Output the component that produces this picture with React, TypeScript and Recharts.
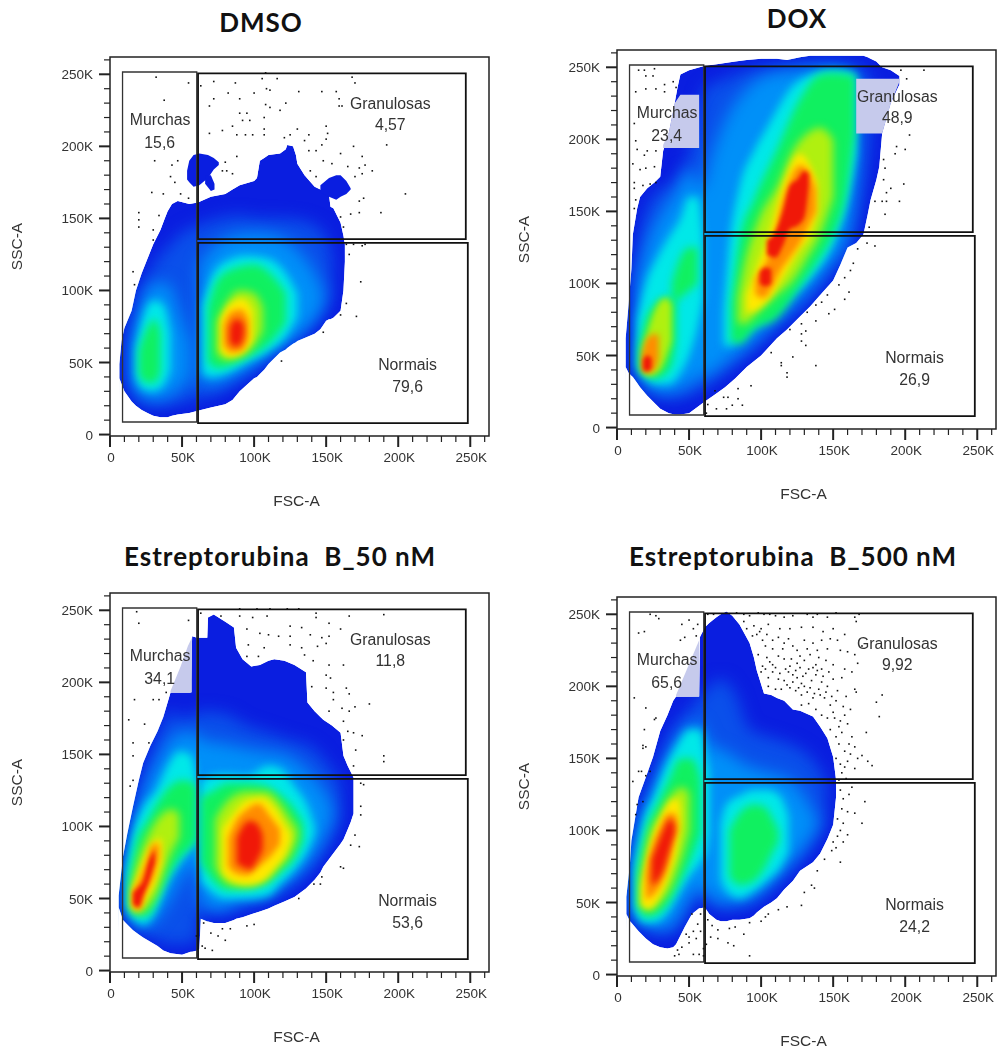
import React from "react";
import { ComposedChart, Area, Scatter, XAxis, YAxis, ReferenceArea, ReferenceDot } from "recharts";

type Row = number[];
const axisTicks = [0, 10, 20, 30, 40, 50, 60, 70, 80, 90, 100, 110, 120, 130, 140, 150, 160, 170, 180, 190, 200, 210, 220, 230, 240, 250, 260];
const majorTicks = [0, 50, 100, 150, 200, 250];

const deep = "#0a1ee0", blue = "#0a50ea", sky = "#0090f8", cyan = "#00e8e8", green = "#10f060", lime = "#b0f010", yellow = "#ffe800", orange = "#ff8c00", red = "#f01808", patch = "#c6caec";

// DMSO
const dmsoOuter: Row[] = [[6.5,39,49],[8,35,65],[10,30,74],[15,23,86],[18,20,100],[22,17,112],[26,15,122],[30,13,132],[35,12,142],[38,12,150],[40,12,155],[43,13,160],[47,14,162],[55,15,160],[61,16.5,161],[70,18.7,165],[80,21,167],[85,24,170],[90,30,173],[100,39,176],[102,40,178],[104,42,190],[107,45,192],[110,49,194],[118,57,195],[122,59,198],[123,60,201],[127,63,200],[129,64,194],[130,65,188],[135,67,180],[142,70,172],[146,73,170],[150,79,168],[152,80,166],[153,80,158],[155,81,157],[160,86,147],[162,100,138],[163,120,132]];
const dmsoIsland: Row[] = [[53.5,177,183],[55,175,190],[58,172,194],[62,173,195],[68,178,194],[72,184,192],[75.5,187,189]];
const dmsoTail: Row[] = [[66,174,180],[70,169,180],[72.5,170,174]];
const dmsoLobe: Row[] = [[146,168,173],[152,165,178],[157,163,180],[160,165,180],[164,167,176],[167,170,171]];
const dmsoBlue: Row[] = [[14,34,70],[20,24,95],[30,20,118],[40,20,130],[50,22,140],[61,25,145],[75,28,150],[90,38,152],[105,50,150],[120,62,150],[135,72,148],[148,85,140],[154,95,125]];
const dmsoSkyL: Row[] = [[14,38,60],[20,28,85],[30,24,105],[40,26,105],[48,32,85],[56,40,62]];
const dmsoSkyR: Row[] = [[62,35,118],[70,35,128],[85,40,138],[100,48,140],[115,58,138],[130,68,128],[142,80,112],[148,90,100]];
const dmsoCyanL: Row[] = [[18,40,60],[22,32,78],[30,30,93],[37,34,90],[42,45,70]];
const dmsoCyanR: Row[] = [[64,42,90],[70,40,108],[80,42,120],[95,50,124],[110,58,122],[122,68,112],[130,82,98]];
const dmsoGreenL: Row[] = [[20,42,58],[25,36,72],[31,36,80],[35,44,70]];
const dmsoGreenR: Row[] = [[68,50,88],[75,46,108],[88,50,116],[100,56,118],[113,66,110],[122,78,98]];
const dmsoLime: Row[] = [[74,57,78],[80,52,90],[90,54,100],[100,62,98],[106,72,88]];
const dmsoYellow: Row[] = [[77,58,80],[83,54,90],[92,57,94],[99,66,86]];
const dmsoOrange: Row[] = [[79,62,76],[84,57,85],[91,58,87],[96,67,80]];
const dmsoRed: Row[] = [[83,64,74],[87,61,80],[91,63,79],[93,70,75]];
const dmsoDots: Row[] = [[32,248],[54.5,244],[37.6,232],[63,242],[72,245],[87,244],[105.6,247],[108,251],[116,247],[168,248],[170,244],[131,238],[147,238],[157,238],[159,233],[159,228],[161,228],[72,233],[69,228],[90,233],[100,237],[108.6,240],[111,239],[82,237],[108,229],[111,227],[122,230],[118,225],[90,223],[95,223],[107,220],[92,218],[107,212],[78,211],[85,214],[97,218],[130,212],[150,214],[69,209],[88,208],[94,208],[99,208],[107,208],[125,208],[121,206],[138,208],[135,204],[151,209],[150,205],[192,201],[169,200],[147,201],[143,197],[138,197],[160,195],[175,193],[177,187],[173,185],[182,183],[175,181],[170,179],[165,186],[154,188],[148,190],[139,183],[143,179],[80,189],[88,193],[81,183],[78,183],[85,181],[43,187],[47,190],[31,190],[42,179],[45,175],[29,168],[37,167],[49,167],[54.5,164],[205,167],[188,154],[167,153],[173,154],[173,162],[176,164],[160,151],[162,144],[20,154],[34,152],[20,149],[20,144],[30,142],[30,135],[16,113],[17,104],[164,132],[169,132],[175,131],[177,132],[166,125],[174,106],[164,91],[171,82],[160,83],[148,71],[119,51]];

// DOX
const doxOuter: Row[] = [[6,42,62],[8,38,85],[10,36,110],[11,35,134],[14,31,152],[16,28,160],[21,22,166],[26,17,170],[30,13,174],[32,12,192],[36,10,205],[40,9,225],[42,9,236],[44,9,245],[50,10,248],[61,18,251],[68,23,252],[75,28,253],[82,34,254],[90,42,255],[100,50,256],[111,62,256],[118,68,255],[127,77,257],[134,84,258],[141,92,258],[150,102,258],[155,113,258],[160,125,258],[166,128,258],[171,134,258],[174,148,257],[176,158,256],[180,172,254],[182,181,252],[184,204,250],[190,225,248],[196,238,244]];
const doxBlue: Row[] = [[12,40,110],[20,28,150],[30,22,165],[40,20,170],[50,22,190],[61,28,235],[75,38,242],[90,50,248],[110,68,250],[130,85,252],[150,110,252],[165,135,250],[172,170,248],[176,200,245]];
const doxSky: Row[] = [[14,38,100],[22,28,130],[32,24,150],[42,26,165],[50,30,180],[58,35,165],[66,38,190],[76,46,215],[90,56,235],[105,70,245],[125,88,248],[145,110,250],[160,135,248],[166,180,244]];
const doxCyanL: Row[] = [[14,42,75],[20,34,100],[28,30,118],[36,30,132],[44,38,145],[50,50,160],[56,70,160],[60,90,130]];
const doxCyanR: Row[] = [[74,58,80],[77,56,118],[85,62,167],[95,70,192],[104,76,208],[122,92,237],[135,105,245],[150,128,248],[160,158,247],[166,190,245]];
const doxGreenL: Row[] = [[15,40,55],[20,36,75],[26,34,85],[32,36,90],[38,44,90],[41,60,85]];
const doxGreenL2: Row[] = [[38,85,100],[44,90,118],[50,95,125],[56,100,125]];
const doxGreenR: Row[] = [[79,60,85],[85,58,130],[95,68,158],[111,76,193],[127,98,228],[141,118,245],[150,134,246],[160,167,245],[165,204,244]];
const doxLimeR: Row[] = [[84,72,90],[88,72,111],[99,81,146],[111,92,167],[122,102,192],[132,118,204],[141,134,208],[150,160,200]];
const doxYellowR: Row[] = [[90,80,92],[97,82,111],[104,88,130],[115,104,167],[127,124,190],[134,134,182],[139,150,170]];
const doxOrangeR: Row[] = [[96,92,104],[102,90,112],[108,98,128],[113,108,150],[120,118,172],[127,128,182],[133,140,178],[138,150,165]];
const doxRedA: Row[] = [[99,100,108],[103,98,111],[107,100,110]];
const doxRedB: Row[] = [[104,120,130],[110,118,136],[115,126,150],[120,138,168],[125,140,172],[130,146,178],[133,168,176]];
const doxLimeL: Row[] = [[18,38,55],[22,36,70],[28,38,85],[34,48,90],[38,60,85]];
const doxOrangeL: Row[] = [[17,40,50],[21,38,62],[26,40,65],[29,48,64]];
const doxRedL: Row[] = [[18,40,47],[21,39,50],[24,41,48]];
const doxPatchA: Row[] = [[32,194,196],[36,194,205],[40,194,225],[44,194,231],[57,194,231]];
const doxPatchB: Row[] = [[166,204,242],[184,204,242],[190,225,242],[196,240,242]];
const doxDots: Row[] = [[15,248],[19,248],[26,249],[20,244],[25,244],[13,233],[20,235],[27,235],[33,238],[39,240],[33,233],[41,236],[12,211],[13,199],[14,193],[21,192],[27,192],[19,189],[11,183],[16,179],[20,180],[26,181],[12,170],[12,166],[18,168],[23,169],[27,170],[13,158],[12,152],[197,248],[213,248],[201,242],[203,203],[194,195],[200,193],[193,190],[185,186],[186,180],[185,172],[199,169],[190,166],[187,163],[179,157],[184,157],[187,157],[196,157],[186,148],[175,139],[173.5,128],[179,126],[167,124],[164,114],[162,109],[158,104],[161,94],[154,99],[146,92],[142,87],[138,85],[147,79],[151,82],[158,89],[132,80],[138,74],[128,72],[131,67],[128,65],[120,68],[128,60],[131,57],[107,52],[122,49],[114,45],[138,43],[114,43],[118,38],[118,35],[93,29],[84,27],[68,25.5],[74,21],[77,21],[84,20],[80,15.5],[87,15.5],[76,13],[69,13],[63,16],[62,10]];

// Estreptorubina 50
const e50Outer: Row[] = [[6,44,52],[9,35,79],[12,32,95],[16,28,114],[20,25,132],[23,23,144],[28,20,156],[33,17,166],[37,14,176],[42,12,193],[50,11,193],[56,13,193],[57,13,232],[60.5,14,231],[62,15,231],[63,36,231],[67.5,34,231],[68,34,245],[72,33,247],[80,33,242],[86,35,238],[87.5,36,224],[92,37,216],[98,39,211],[104,41,212],[110,43,215],[114,45,216],[121,48,215],[128,51,212],[136,57,207],[137,58,186],[142,63,180],[146,68,176],[148,72,174],[154,80,170],[160,88,165],[162,91,149],[165,98,142],[167,103,138],[169,109,134]];
const e50Blue: Row[] = [[10,38,75],[16,30,108],[24,26,138],[34,20,165],[42,18,180],[50,18,175],[60,20,178],[63,40,180],[80,40,178],[95,46,170],[110,50,165],[125,58,160],[140,72,155],[152,88,142],[160,105,130]];
const e50Sky: Row[] = [[11,42,70],[18,32,105],[26,30,130],[35,40,148],[42,50,160],[50,65,165],[60,75,165],[63,48,160],[75,42,158],[90,48,155],[105,50,152],[120,60,150],[135,72,140],[148,92,125],[154,105,115]];
const e50CyanL: Row[] = [[11,45,70],[16,36,95],[24,32,115],[32,42,125],[40,62,142],[48,75,152],[56,85,150],[60,90,135]];
const e50CyanR: Row[] = [[63,62,130],[70,55,135],[80,50,136],[95,50,135],[110,52,142],[118,60,140],[128,70,128],[138,85,112],[142,95,100]];
const e50GreenL: Row[] = [[13,44,62],[18,38,88],[26,38,104],[34,52,118],[42,68,128],[50,80,132],[58,88,130],[60,92,125]];
const e50GreenR: Row[] = [[63,75,120],[72,62,125],[82,56,130],[95,57,130],[108,60,128],[118,68,122],[128,78,112],[134,90,102]];
const e50LimeL: Row[] = [[15,42,60],[20,40,78],[27,45,95],[33,55,105],[38,70,110],[44,85,112],[48,92,108]];
const e50LimeR: Row[] = [[73,72,105],[82,60,118],[95,58,124],[108,62,124],[118,72,116],[126,82,104],[130,92,98]];
const e50YellowL: Row[] = [[15,44,55],[19,42,65],[25,50,80],[31,60,90],[36,75,92]];
const e50YellowR: Row[] = [[78,68,98],[85,62,108],[95,60,118],[105,62,120],[115,72,112],[122,82,100],[125,90,95]];
const e50OrangeL: Row[] = [[16,44,56],[20,42,62],[25,55,75],[30,65,88],[34,78,88]];
const e50OrangeR: Row[] = [[82,72,92],[88,67,105],[95,66,112],[103,72,116],[112,80,106],[118,88,98]];
const e50RedL: Row[] = [[16,46,54],[20,44,58],[23,52,62],[27,62,76],[31,75,84]];
const e50RedR: Row[] = [[88,74,92],[92,72,100],[97,70,104],[102,76,102],[106,84,94]];
const e50Patch: Row[] = [[42,193,194],[49,193,211],[54,193,225],[56.8,193,231]];
const e50Dots: Row[] = [[18.5,249],[20,241],[54.5,243],[63,248],[77,246],[90,251],[102,251],[111,251],[123,251],[131,251],[143,248],[152,241],[166,246],[190,247],[90,246],[99,245],[109,246],[125,239],[133,238],[143,245],[160,237],[95,237],[104,234],[110,233],[117,232],[125,232],[139,233],[147,231],[152,232],[96,226],[107,224],[125,226],[133,224],[144,225],[150,227],[95,218],[103,218],[135,219],[141,215],[152,212],[162,212],[150,205],[153,203],[140,197],[150,196],[155,193],[164,196],[166,192],[155,188],[161,182],[170,183],[180,185],[152,180],[166,180],[162,173],[165,166],[175,163],[169,165],[162,160],[170.5,153],[190,149],[190,145],[169,142],[174,130],[176,129],[174,114],[174,108],[170,94],[173,86],[167,87],[160,72],[162,71],[147,65],[141.5,60],[146,60],[131,50],[13,174],[17,188],[24,171],[30,188],[34,188],[39,193],[16,158],[27,158],[16,149],[16,132],[14,128],[65,33],[78,29],[83.5,29],[95,31],[100,32],[70,26],[75,24],[80,21],[64,17],[66,15.5],[71,14],[60,24]];

// Estreptorubina 500
const e500Outer: Row[] = [[6.5,42,54],[9,37,77],[10,36,93],[15,30,123],[20,25,137],[25,21,151],[30,19,169],[35,18,180],[39,19,190],[41,21,193],[47,33,193],[52,42,193],[57,46,193],[57.5,46,234],[61,46.5,241],[64,42,244],[69,38,248],[72,37,250],[76,37,252],[80,38,249],[85,38,243],[92,39,230],[95,41,220],[97,43,211],[102,47,195],[107,50,194],[111,53,192],[116,59,190],[122,65,184],[127,72,183],[136,78,179],[141,84,172],[146,94,164],[150,104,151],[152,123,135]];
const e500Blue: Row[] = [[10,40,85],[16,34,115],[22,30,130],[30,28,150],[38,28,170],[46,40,180],[55,52,190],[60,54,195],[64,48,200],[72,45,205],[82,46,195],[92,48,170],[105,58,165],[120,72,160],[135,88,150],[145,105,135]];
const e500Sky: Row[] = [[11,44,80],[16,38,105],[24,33,125],[32,32,145],[40,36,160],[48,50,170],[56,60,175],[60,60,170],[64,55,160],[75,50,155],[90,52,145],[105,62,140],[120,78,135],[132,92,120],[140,105,105]];
const e500CyanL: Row[] = [[12,45,75],[18,36,105],[26,36,125],[34,42,145],[42,55,160],[50,68,170],[58,78,170],[62,85,150],[64,100,140]];
const e500CyanR: Row[] = [[72,66,105],[76,58,118],[85,53,124],[95,58,128],[105,66,128],[113,74,124],[119,85,110]];
const e500GreenL: Row[] = [[14,48,70],[20,40,100],[28,42,118],[36,50,135],[44,65,150],[52,82,150],[58,98,135]];
const e500GreenR: Row[] = [[78,68,100],[85,62,112],[95,65,118],[103,75,116],[108,85,108],[112,92,100]];
const e500Lime: Row[] = [[16,48,65],[22,44,95],[30,50,112],[38,62,125],[46,85,130],[50,100,125]];
const e500Yellow: Row[] = [[17,48,60],[22,46,85],[30,55,108],[37,72,120],[42,90,122],[44,105,115]];
const e500Orange: Row[] = [[20,52,70],[25,55,90],[30,62,102],[36,78,112],[40,95,112],[42,100,105]];
const e500Red: Row[] = [[24,62,80],[28,65,90],[32,72,100],[37,88,108],[40,98,104]];
const e500Patch: Row[] = [[41,193,194],[57,193,232]];
const e500Dots: Row[] = [[23,250],[27,249],[29,247],[15,237],[19,238],[45,243],[50,246],[53,240],[47,234],[55,235],[44,232],[56,243],[12,192],[20,185],[27,178],[26,177],[19,170],[18,159],[18,157],[20,158],[15,141],[11,134],[17,141],[23,141],[14,118],[13,111],[18,120],[20,138],
[63,250],[67,250],[83,251],[88,250],[92,249],[98,251],[102,250],[106,250],[110,249],[116,248],[122,249],[132,250],[136,248],[139,250],[146,248],[152,251],[165,248],[168,250],[88,245],[90,240],[95,242],[97,236],[99,238],[100,240],[104,236],[108,232],[112,234],[116,230],[122,228],[125,225],[130,232],[136,230],[142,232],[146,226],[150,240],[155,225],[160,224],[165,222],[166,245],[170,228],[98,222],[104,220],[108,215],[112,221],[116,219],[120,214],[125,216],[130,218],[134,222],[138,215],[140,220],[142,212],[145,218],[150,215],[158,212],[163,210],[167,216],[100,210],[105,206],[108,210],[112,205],[116,204],[119,210],[122,208],[125,206],[128,202],[131,209],[135,204],[138,208],[142,203],[146,200],[150,205],[156,206],[165,198],[166,196],[184,194],[180,189],[182,179],[105,200],[110,198],[114,198],[120,199],[124,197],[128,194],[132,196],[136,192],[140,198],[144,192],[148,187],[152,190],[157,186],[162,184],[128,187],[133,188],[138,184],[142,180],[146,178],[150,182],[155,176],[160,174],[148,170],[152,165],[156,168],[163,165],[173,168],[154,160],[158,155],[165,158],[170,152],[174,148],[177,145],[152,150],[155,146],[160,148],[165,143],[156,140],[159,136],[163,130],[155,128],[157,122],[156,115],[160,113],[165,112],[170,105],[172,120],[153,108],[155,100],[160,97],[157,92],[152,88],[155,78],[150,92],[139,72],[135,62],[137,60],[130,57],[128,48],[118,47],[112,45],[105,42],[48,28],[50,26],[45,19],[43,14],[40,13],[42,17],[50,22],[53,14],[57,14],[60,13],[55,25],[53,30],[56,35],[58,30],[58,42],[52,42],[63,38],[66,34],[70,31],[78,32],[82,33],[88,28],[92,36],[100,37],[103,40],[70,25],[65,26],[77,22],[81,20],[92,13],[60,18],[62,21],
[101,214],[103,212],[106,217],[110,213],[113,209],[117,212],[121,219],[124,211],[127,213],[129,207],[133,212],[136,213],[139,211],[143,207],[147,210],[118,201],[122,203],[126,199],[130,200],[134,199],[137,195],[141,194],[145,196],[149,193],[153,197],[159,193],[115,226],[119,233],[127,221],[132,226],[139,225],[108,226],[103,228],[101,232],[94,235],[105,243],[113,240],[128,241],[120,240],[143,238],[136,241],[148,233],[153,232],[158,236],[151,178],[154,172],[158,180],[161,160],[167,150],[162,153],[158,144],[154,135],[161,125],[157,105],[153,96],[149,86],[144,80]];

type Layer = [Row[], string, number];
const dmsoLayers: Layer[] = [[dmsoBlue, blue, 8], [dmsoSkyL, sky, 8], [dmsoSkyR, sky, 8], [dmsoCyanL, cyan, 4.5], [dmsoCyanR, cyan, 4.5], [dmsoGreenL, green, 4], [dmsoGreenR, green, 4], [dmsoLime, lime, 4], [dmsoYellow, yellow, 3], [dmsoOrange, orange, 3], [dmsoRed, red, 3]];
const doxLayers: Layer[] = [[doxBlue, blue, 8], [doxSky, sky, 8], [doxCyanL, cyan, 4.5], [doxCyanR, cyan, 4.5], [doxGreenL, green, 4], [doxGreenL2, green, 4], [doxGreenR, green, 4], [doxLimeR, lime, 4], [doxYellowR, yellow, 3], [doxOrangeR, orange, 3], [doxRedA, red, 2], [doxRedB, red, 2], [doxLimeL, lime, 3], [doxOrangeL, orange, 3], [doxRedL, red, 2]];
const e50Layers: Layer[] = [[e50Blue, blue, 8], [e50Sky, sky, 8], [e50CyanL, cyan, 4.5], [e50CyanR, cyan, 4.5], [e50GreenL, green, 4], [e50GreenR, green, 4], [e50LimeL, lime, 4], [e50LimeR, lime, 4], [e50YellowL, yellow, 3], [e50YellowR, yellow, 3], [e50OrangeL, orange, 3], [e50OrangeR, orange, 3], [e50RedL, red, 2], [e50RedR, red, 3]];
const e500Layers: Layer[] = [[e500Blue, blue, 8], [e500Sky, sky, 8], [e500CyanL, cyan, 4.5], [e500CyanR, cyan, 4.5], [e500GreenL, green, 4], [e500GreenR, green, 4], [e500Lime, lime, 4], [e500Yellow, yellow, 3], [e500Orange, orange, 3], [e500Red, red, 3]];

const dmsoLate: Layer[] = [[dmsoIsland, deep, 0], [dmsoTail, deep, 0], [dmsoLobe, deep, 0]];
const doxLate: Layer[] = [[doxPatchA, patch, 0], [doxPatchB, patch, 0]];
const e50Late: Layer[] = [[e50Patch, patch, 0]];
const e500Late: Layer[] = [[e500Patch, patch, 0]];

const fullText = "'Liberation Sans', Arial, sans-serif";

const toBand = (rows: Row[]) => rows.map(([x, lo, hi]) => ({ x, band: [lo, hi] }));
const toDots = (rows: Row[]) => rows.map(([x, y]) => ({ x, y }));

// White masks that trim the soft colour layers along the population's own outline.
const upperMask = (rows: Row[]) => {
  const first = rows[0][0];
  const last = rows[rows.length - 1][0];
  return [
    { x: 0, band: [-1, 262] },
    { x: first - 0.01, band: [-1, 262] },
    ...rows.map(([x, , hi]) => ({ x, band: [hi, 262] })),
    { x: last + 0.01, band: [-1, 262] },
    { x: 263, band: [-1, 262] },
  ];
};
const lowerMask = (rows: Row[]) => rows.map(([x, lo]) => ({ x, band: [-1, lo] }));

const XTick = (p: any) => {
  const major = majorTicks.includes(p.payload.value);
  return (
    <g>
      <line x1={p.x} x2={p.x} y1={p.y} y2={p.y + (major ? 11 : 6)} stroke="#222" strokeWidth={major ? 2 : 1.2} />
      {major && (
        <text x={p.x + 1} y={p.y + 26} textAnchor="middle" fontSize={13.5} fontFamily={fullText} fill="#333">
          {p.payload.value === 0 ? "0" : `${p.payload.value}K`}
        </text>
      )}
    </g>
  );
};

const YTick = (p: any) => {
  const major = majorTicks.includes(p.payload.value);
  return (
    <g>
      <line x1={p.x - (major ? 11 : 6)} x2={p.x} y1={p.y} y2={p.y} stroke="#222" strokeWidth={major ? 2 : 1.2} />
      {major && (
        <text x={p.x - 17} y={p.y + 5} textAnchor="end" fontSize={13.5} fontFamily={fullText} fill="#333">
          {p.payload.value === 0 ? "0" : `${p.payload.value}K`}
        </text>
      )}
    </g>
  );
};

const SscLabel = (p: any) => {
  const cx = (p.viewBox?.x ?? 0) + 22;
  const cy = (p.viewBox?.y ?? 50) + (p.viewBox?.height ?? 379) / 2;
  return (
    <text x={cx} y={cy} transform={`rotate(-90 ${cx} ${cy})`} textAnchor="middle" fontSize={15.5} fontFamily={fullText} fill="#333">
      SSC-A
    </text>
  );
};

const DotMark = (p: any) => <rect x={p.cx - 0.8} y={p.cy - 0.8} width={1.6} height={1.6} fill="#111" />;

const gateLabel = (x: number, y: number, value: string) => (
  <ReferenceDot
    key={value + x + y}
    x={x}
    y={y}
    r={0}
    fill="none"
    stroke="none"
    label={{ value, position: "center", fontSize: 15.8, fontFamily: fullText, fill: "#333" }}
  />
);

const band = (key: string, data: any[], color: string, blur: number) => (
  <Area
    key={key}
    data={data}
    dataKey="band"
    type={blur ? "monotone" : "linear"}
    fill={color}
    fillOpacity={1}
    stroke="none"
    dot={false}
    activeDot={false}
    isAnimationActive={false}
    style={blur ? { filter: `blur(${blur}px)` } : undefined}
  />
);

function Panel(props: { frameLeft: number; frameTop: number; title: string; titleX: number; titleY: number; outer: Row[]; layers: Layer[]; late: Layer[]; dots: Row[]; values: string[] }) {
  const { frameLeft, frameTop, title, titleX, titleY, outer, layers, late, dots, values } = props;
  return (
    <>
      <div style={{ position: "absolute", left: titleX - 250, top: titleY - 20, width: 500, height: 40, lineHeight: "40px", textAlign: "center", fontFamily: "Lato, sans-serif", fontWeight: 700, fontSize: 26, letterSpacing: 1, color: "#111", whiteSpace: "pre" }}>{title}</div>
      <div style={{ position: "absolute", left: frameLeft - 110, top: frameTop - 50, filter: "blur(0.35px)" }}>
        <ComposedChart width={500} height={502} margin={{ top: 50, right: 11, bottom: 3, left: 0 }}>
          <XAxis
            dataKey="x"
            type="number"
            domain={[0, 263]}
            ticks={axisTicks}
            interval={0}
            allowDataOverflow
            height={70}
            tick={XTick}
            tickLine={false}
            tickSize={0}
            tickMargin={0}
            axisLine={false}
            label={{ value: "FSC-A", position: "insideBottom", offset: 0, dx: -3, fontSize: 15.5, fontFamily: fullText, fill: "#333" }}
          />
          <YAxis
            type="number"
            domain={[-1, 262]}
            ticks={axisTicks}
            interval={0}
            allowDataOverflow
            width={110}
            tick={YTick}
            tickLine={false}
            tickSize={0}
            tickMargin={0}
            axisLine={false}
            label={{ content: SscLabel }}
          />
          {band("outer", toBand(outer), deep, 0)}
          {layers.map(([rows, color, blur], i) => band(`layer${i}`, toBand(rows), color, blur))}
          {band("maskUp", upperMask(outer), "#ffffff", 0)}
          {band("maskLow", lowerMask(outer), "#ffffff", 0)}
          {late.map(([rows, color, blur], i) => band(`late${i}`, toBand(rows), color, blur))}
          <Scatter data={toDots(dots)} dataKey="y" shape={DotMark} isAnimationActive={false} />
          <ReferenceArea x1={8.7} x2={60.2} y1={8.7} y2={251.6} fill="none" stroke="#333" strokeWidth={1.3} />
          <ReferenceArea x1={61.1} x2={246.9} y1={135.6} y2={250.7} fill="none" stroke="#111" strokeWidth={1.8} />
          <ReferenceArea x1={61.1} x2={248.3} y1={8} y2={133} fill="none" stroke="#111" strokeWidth={1.8} />
          <ReferenceArea x1={0} x2={263} y1={-1} y2={262} fill="none" stroke="#222" strokeWidth={1.5} />
          {gateLabel(34.8, 219, "Murchas")}
          {gateLabel(34.5, 203, values[0])}
          {gateLabel(194.5, 230, "Granulosas")}
          {gateLabel(194.5, 215, values[1])}
          {gateLabel(206.5, 49, "Normais")}
          {gateLabel(206.5, 33.5, values[2])}
        </ComposedChart>
      </div>
    </>
  );
}

export default function App() {
  return (
    <div style={{ position: "absolute", left: 0, top: 0, width: 1000, height: 1050, background: "#fff", overflow: "hidden" }}>
      <Panel frameLeft={110} frameTop={57} title="DMSO" titleX={261} titleY={22} outer={dmsoOuter} layers={dmsoLayers} late={dmsoLate} dots={dmsoDots} values={["15,6", "4,57", "79,6"]} />
      <Panel frameLeft={617} frameTop={50} title="DOX" titleX={797} titleY={18} outer={doxOuter} layers={doxLayers} late={doxLate} dots={doxDots} values={["23,4", "48,9", "26,9"]} />
      <Panel frameLeft={110} frameTop={593} title="Estreptorubina  B_50 nM" titleX={280} titleY={556} outer={e50Outer} layers={e50Layers} late={e50Late} dots={e50Dots} values={["34,1", "11,8", "53,6"]} />
      <Panel frameLeft={617} frameTop={597} title="Estreptorubina  B_500 nM" titleX={793} titleY={556} outer={e500Outer} layers={e500Layers} late={e500Late} dots={e500Dots} values={["65,6", "9,92", "24,2"]} />
    </div>
  );
}
